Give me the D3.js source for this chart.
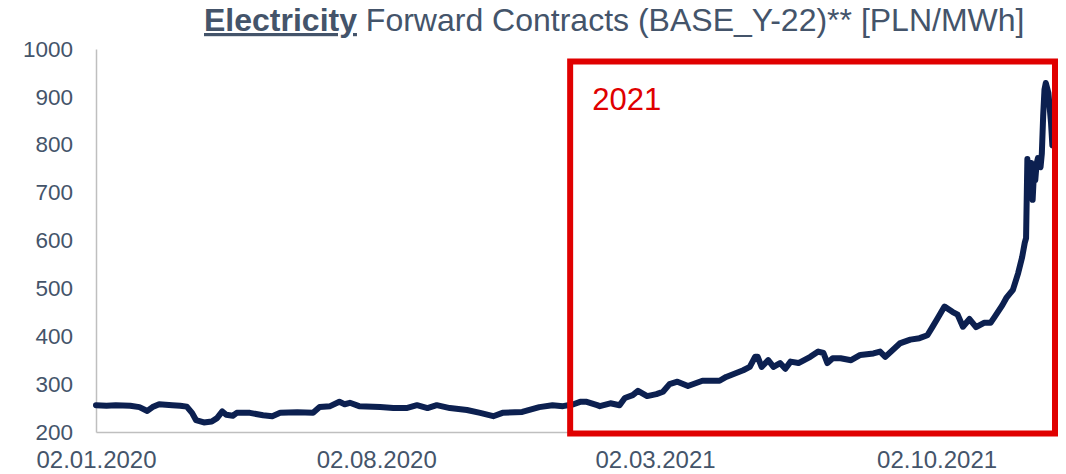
<!DOCTYPE html>
<html>
<head>
<meta charset="utf-8">
<script src="https://cdn.jsdelivr.net/npm/d3@7"></script>
<style>
  body { margin: 0; background: #fff; }
  text { font-family: "Liberation Sans", Arial, sans-serif; }
</style>
</head>
<body>
<svg width="1066" height="474"></svg>
<script>
// Forward contract BASE_Y-22, daily closes
const dates = [
  "2020-01-02","2020-01-10","2020-01-17","2020-01-28","2020-02-04","2020-02-10","2020-02-14","2020-02-19",
  "2020-02-24","2020-02-29","2020-03-06","2020-03-11","2020-03-15","2020-03-18","2020-03-24","2020-03-30",
  "2020-04-03","2020-04-07","2020-04-10","2020-04-15","2020-04-18","2020-04-28","2020-05-08","2020-05-15",
  "2020-05-21","2020-06-03","2020-06-15","2020-06-20","2020-06-28","2020-07-05","2020-07-09","2020-07-13",
  "2020-07-20","2020-08-05","2020-08-15","2020-08-25","2020-09-02","2020-09-10","2020-09-17","2020-09-27",
  "2020-10-10","2020-10-20","2020-10-30","2020-11-06","2020-11-21","2020-12-04","2020-12-14","2020-12-22",
  "2020-12-30","2021-01-04","2021-01-09","2021-01-17","2021-01-19","2021-01-27","2021-02-03","2021-02-07",
  "2021-02-13","2021-02-17","2021-02-24","2021-03-03","2021-03-08","2021-03-13","2021-03-19","2021-03-27",
  "2021-04-07","2021-04-20","2021-04-25","2021-05-08","2021-05-13","2021-05-17","2021-05-19","2021-05-22",
  "2021-05-27","2021-05-31","2021-06-05","2021-06-09","2021-06-13","2021-06-19","2021-06-28","2021-07-04",
  "2021-07-08","2021-07-11","2021-07-15","2021-07-21","2021-07-29","2021-08-05","2021-08-15","2021-08-20",
  "2021-08-24","2021-09-04","2021-09-12","2021-09-19","2021-09-25","2021-09-29","2021-10-02","2021-10-05",
  "2021-10-08","2021-10-14","2021-10-18","2021-10-22","2021-10-27","2021-11-01","2021-11-07","2021-11-12",
  "2021-11-15","2021-11-21","2021-11-24","2021-11-29","2021-12-03","2021-12-06","2021-12-08","2021-12-09",
  "2021-12-10","2021-12-11","2021-12-13","2021-12-14","2021-12-15","2021-12-16","2021-12-17","2021-12-18",
  "2021-12-20","2021-12-21","2021-12-22","2021-12-23","2021-12-24","2021-12-26","2021-12-28","2021-12-29"
];
const prices = [
  256,255,256,255,252,244,252,258,
  257,256,255,253,240,225,220,222,
  229,243,236,234,240,240,235,233,
  240,241,240,252,254,263,258,261,
  254,252,250,250,256,250,256,250,
  246,240,233,240,242,252,256,254,
  258,263,263,256,254,260,256,271,
  277,286,275,279,284,300,305,296,
  307,307,315,329,336,357,357,336,
  350,336,344,332,347,344,357,368,
  365,344,354,354,350,361,364,368,
  357,385,393,396,402,420,434,448,
  462,451,445,420,436,419,428,428,
  440,465,480,497,532,565,595,605,
  770,700,762,685,741,726,760,772,
  753,782,860,915,929,908,845,799
];

const yTicks = [200, 300, 400, 500, 600, 700, 800, 900, 1000];
const xTicks = ["2020-01-02", "2020-08-02", "2021-03-02", "2021-10-02"];
const highlightStart = "2021-01-01"; // the red "2021" frame

const parse = d3.timeParse("%Y-%m-%d");
const data = dates.map((d, i) => ({date: parse(d), value: prices[i]}));

let svg = d3.select("svg");

const slate = "#44546a";
const red = "#e00000";

let x = d3.scaleTime()
    .domain([parse("2020-01-02"), parse("2021-12-31")])
    .range([96, 1055]);

let y = d3.scaleLinear()
    .domain([200, 1000])
    .range([432, 49]);

// axes
let yAxis = svg.append("g")
    .attr("transform", "translate(96,0)")
    .call(d3.axisLeft(y).tickValues(yTicks).tickSize(0).tickPadding(23).tickFormat(d3.format("d")));

let xAxis = svg.append("g")
    .attr("transform", "translate(0,432)")
    .call(d3.axisBottom(x).tickValues(xTicks.map(parse)).tickSize(0).tickPadding(19)
        .tickFormat(d3.timeFormat("%d.%m.%Y")));

[yAxis, xAxis].forEach(g => {
    g.select(".domain").attr("stroke", "#bfbfbf").attr("stroke-width", 1.5);
    g.selectAll("text")
        .attr("fill", slate)
        .style("font-family", "'Liberation Sans', Arial, sans-serif");
});
yAxis.selectAll("text").style("font-size", "22.5px");
xAxis.selectAll("text").style("font-size", "24px");

// price line
svg.append("path")
    .datum(data)
    .attr("fill", "none")
    .attr("stroke", "#0c2050")
    .attr("stroke-width", 6)
    .attr("stroke-linejoin", "round")
    .attr("stroke-linecap", "round")
    .attr("d", d3.line().x(d => x(d.date)).y(d => y(d.value)));

// 2021 frame
let frameLeft = x(parse(highlightStart)) - 6;
svg.append("rect")
    .attr("x", frameLeft)
    .attr("y", 61.5)
    .attr("width", 1055 - frameLeft)
    .attr("height", 372)
    .attr("fill", "none")
    .attr("stroke", red)
    .attr("stroke-width", 6);

svg.append("text")
    .attr("x", frameLeft + 22)
    .attr("y", 110)
    .attr("fill", red)
    .style("font-size", "31px")
    .text("2021");

// title
let title = svg.append("text")
    .attr("x", 204)
    .attr("y", 31)
    .attr("fill", slate)
    .style("font-size", "32px");
title.append("tspan")
    .style("font-weight", "bold")
    .style("text-decoration", "underline")
    .text("Electricity");
title.append("tspan")
    .text(" Forward Contracts (BASE_Y-22)** [PLN/MWh]");
</script>
</body>
</html>
